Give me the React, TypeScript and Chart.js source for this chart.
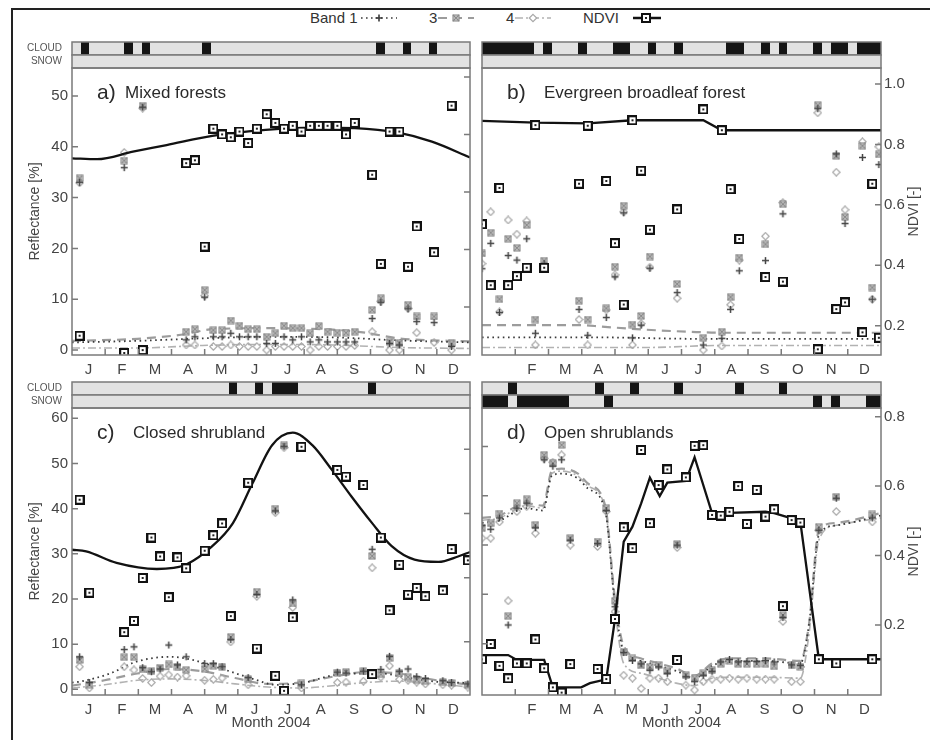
import React, { useEffect, useRef } from "react";
import { Chart, registerables } from "chart.js";
Chart.register(...registerables);

const FONT = "'Liberation Sans', Arial, Helvetica, sans-serif";
const MONTHS = ["J", "F", "M", "A", "M", "J", "J", "A", "S", "O", "N", "D"];
const MONTHS_NO_JAN = ["", "F", "M", "A", "M", "J", "J", "A", "S", "O", "N", "D"];
const MONTH_LEN = 30.5;
const COMPOSITE_DAYS = 8;
const YEAR_END = 366;

// ---------- a) Mixed forests ----------
const aDays = [7, 48, 65, 105, 113, 122, 130, 138, 146, 154, 162, 170, 179, 187, 195, 203, 211, 219, 227, 235, 244, 252, 260, 276, 284, 292, 301, 309, 317, 333, 349];
const aNdvi = [0.10, 0.04, 0.05, 0.70, 0.71, 0.41, 0.82, 0.80, 0.79, 0.81, 0.77, 0.82, 0.87, 0.84, 0.82, 0.83, 0.81, 0.83, 0.83, 0.83, 0.83, 0.80, 0.84, 0.66, 0.35, 0.81, 0.81, 0.34, 0.48, 0.39, 0.90];
const aBand1 = [33.0, 35.9, 47.8, 2.0, 2.6, 10.4, 2.6, 2.6, 3.3, 2.6, 2.6, 2.6, 1.3, 1.3, 2.6, 2.0, 2.6, 1.6, 2.0, 1.6, 1.6, 1.6, 1.6, 6.2, 9.4, 1.3, 1.0, 8.1, 5.6, 5.4, 0.7];
const aBand3 = [33.8, 37.3, 48.1, 3.6, 4.1, 11.8, 3.9, 3.9, 5.8, 4.8, 4.1, 4.1, 2.6, 3.3, 4.8, 4.3, 4.3, 3.3, 4.7, 3.6, 3.4, 3.4, 3.6, 7.9, 10.2, 1.6, 1.4, 8.9, 6.6, 6.6, 1.3];
const aBand4 = [32.9, 38.9, 47.6, 1.0, 1.0, 10.7, 0.7, 0.7, 1.0, 0.7, 0.7, 0.7, 0.0, 0.7, 0.7, 0.7, 0.7, 0.0, 0.7, 0.7, 0.7, 0.7, 0.9, 3.6, 9.6, 0.0, 0.0, 8.2, 3.4, 1.5, 0.0];
const aNdviFitDays = [0, 23, 56, 87, 129, 178, 224, 260, 300, 331, 366];
const aNdviFit = [0.717, 0.714, 0.740, 0.763, 0.795, 0.816, 0.824, 0.822, 0.806, 0.775, 0.720];
const aBand1FitDays = [0, 60, 120, 180, 240, 300, 366];
const aBand1Fit = [1.5, 1.8, 2.3, 2.6, 2.5, 1.9, 1.5];
const aBand3FitDays = [0, 60, 100, 130, 180, 240, 270, 300, 366];
const aBand3Fit = [1.8, 2.2, 3.0, 4.1, 4.3, 4.0, 3.4, 2.3, 1.7];
const aBand4FitDays = [0, 60, 120, 180, 240, 300, 366];
const aBand4Fit = [0.4, 0.4, 0.9, 1.1, 1.0, 0.5, 0.3];
const aCloud = [1, 6, 8, 15, 35, 38, 41];
const aSnow: number[] = [];

// ---------- b) Evergreen broadleaf forest ----------
const bDays = [0, 8, 16, 24, 32, 41, 49, 57, 89, 97, 114, 122, 130, 138, 146, 154, 179, 203, 220, 228, 236, 260, 276, 308, 325, 333, 349, 358, 364];
const bNdvi = [0.536, 0.334, 0.656, 0.334, 0.364, 0.392, 0.864, 0.392, 0.670, 0.862, 0.679, 0.473, 0.270, 0.880, 0.713, 0.518, 0.585, 0.916, 0.847, 0.652, 0.487, 0.361, 0.346, 0.122, 0.255, 0.277, 0.178, 0.670, 0.160];
const bBand1 = [16.0, 21.0, 7.4, 18.6, 17.7, 21.9, 3.3, 17.0, 8.0, 2.9, 6.4, 14.4, 27.0, 2.4, 4.9, 16.1, 11.3, 1.0, 2.3, 8.0, 15.6, 17.6, 26.8, 47.5, 38.6, 24.9, 37.9, 10.0, 36.5];
const bBand3 = [19.0, 23.1, 10.0, 21.9, 20.1, 24.6, 6.0, 17.6, 9.7, 6.0, 8.2, 16.4, 28.4, 5.0, 6.7, 18.4, 13.0, 2.4, 3.6, 10.4, 18.2, 20.8, 28.7, 48.2, 38.2, 26.2, 40.2, 12.3, 38.5];
const bBand4 = [17.0, 27.2, 7.5, 25.6, 22.8, 25.4, 1.0, 16.4, 6.0, 1.0, 7.9, 14.8, 27.2, 1.0, 5.2, 16.3, 10.2, 0.0, 0.8, 8.9, 17.7, 22.4, 29.0, 46.7, 35.0, 27.6, 41.0, 10.0, 40.0];
const bNdviFitDays = [0, 49, 97, 138, 203, 220, 366];
const bNdviFit = [0.878, 0.872, 0.870, 0.880, 0.880, 0.847, 0.847];
const bBand1FitDays = [0, 100, 200, 366];
const bBand1Fit = [2.5, 2.5, 2.2, 2.2];
const bBand3FitDays = [0, 90, 110, 150, 190, 220, 366];
const bBand3Fit = [4.9, 4.9, 4.6, 4.0, 3.6, 3.4, 3.4];
const bBand4FitDays = [0, 150, 220, 366];
const bBand4Fit = [0.5, 0.5, 0.9, 0.9];
const bCloud = [0, 1, 2, 3, 4, 5, 7, 11, 15, 16, 19, 22, 28, 29, 32, 34, 38, 40, 41, 43, 44, 45];
const bSnow: number[] = [];

// ---------- c) Closed shrubland ----------
const cDays = [7, 16, 48, 57, 65, 73, 81, 89, 97, 105, 122, 130, 138, 146, 162, 170, 187, 195, 203, 211, 244, 252, 268, 276, 284, 292, 301, 309, 317, 325, 341, 349, 364];
const cNdvi = [0.643, 0.353, 0.230, 0.265, 0.399, 0.525, 0.466, 0.339, 0.463, 0.429, 0.484, 0.532, 0.569, 0.280, 0.696, 0.179, 0.094, 0.047, 0.276, 0.808, 0.736, 0.715, 0.689, 0.099, 0.525, 0.298, 0.440, 0.347, 0.368, 0.342, 0.360, 0.489, 0.454];
const cBand1 = [7.2, 1.5, 8.8, 9.4, 4.8, 3.9, 4.5, 9.8, 5.4, 7.2, 5.7, 5.7, 5.0, 11.0, 2.6, 21.0, 39.5, 53.8, 19.8, 1.0, 3.8, 3.6, 4.0, 31.0, 4.4, 7.3, 4.0, 4.5, 2.8, 2.4, 1.9, 1.5, 1.2];
const cBand3 = [6.5, 1.0, 7.1, 7.1, 4.4, 4.0, 4.8, 5.5, 5.0, 4.3, 4.5, 5.2, 5.0, 11.6, 2.2, 21.6, 40.0, 54.0, 19.0, 1.3, 3.7, 3.8, 4.0, 29.5, 3.3, 6.9, 3.5, 2.7, 2.1, 1.8, 1.6, 1.4, 1.0];
const cBand4 = [5.0, 0.3, 5.0, 4.3, 2.4, 1.5, 2.9, 3.2, 2.7, 3.0, 2.0, 2.2, 2.5, 10.5, 1.0, 20.6, 39.1, 53.5, 18.1, 0.3, 1.5, 1.6, 1.8, 26.9, 2.7, 5.2, 2.2, 2.0, 1.6, 1.2, 1.0, 0.9, 0.5];
const cNdviFitDays = [0, 13, 41, 78, 105, 129, 148, 166, 184, 203, 221, 239, 257, 276, 294, 315, 337, 355, 366];
const cNdviFit = [0.487, 0.482, 0.446, 0.427, 0.441, 0.498, 0.570, 0.694, 0.813, 0.852, 0.813, 0.736, 0.653, 0.570, 0.498, 0.456, 0.449, 0.466, 0.480];
const cBand1FitDays = [0, 7, 35, 59, 90, 111, 126, 141, 151, 169, 187, 212, 242, 264, 285, 303, 334, 366];
const cBand1Fit = [1.5, 1.7, 3.5, 6.1, 7.2, 6.5, 5.4, 4.3, 3.5, 2.1, 1.0, 1.4, 3.2, 3.5, 3.5, 2.8, 1.7, 1.4];
const cBand3FitDays = [0, 30, 60, 90, 120, 150, 180, 210, 240, 270, 300, 335, 366];
const cBand3Fit = [0.8, 2.0, 3.5, 4.5, 4.0, 2.5, 1.2, 1.5, 2.8, 3.8, 3.5, 2.0, 1.0];
const cBand4FitDays = [0, 30, 60, 90, 120, 150, 180, 210, 240, 270, 300, 335, 366];
const cBand4Fit = [0.3, 1.0, 2.0, 2.3, 2.0, 1.2, 0.5, 0.3, 0.8, 1.5, 1.8, 1.2, 0.5];
const cCloud = [18, 21, 23, 24, 25, 34];
const cSnow: number[] = [];

// ---------- d) Open shrublands ----------
const dDays = [0, 8, 16, 24, 32, 41, 49, 57, 65, 73, 81, 106, 114, 122, 130, 138, 146, 154, 162, 170, 179, 187, 195, 203, 211, 219, 227, 235, 243, 252, 260, 268, 276, 284, 292, 309, 325, 358];
const dNdvi = [0.101, 0.145, 0.082, 0.046, 0.089, 0.089, 0.158, 0.075, 0.020, 0.005, 0.087, 0.073, 0.044, 0.217, 0.481, 0.421, 0.704, 0.493, 0.603, 0.648, 0.099, 0.625, 0.716, 0.718, 0.517, 0.515, 0.526, 0.600, 0.491, 0.589, 0.512, 0.533, 0.254, 0.502, 0.495, 0.101, 0.089, 0.101];
const dBand1 = [34.0, 33.2, 35.5, 13.8, 37.5, 38.5, 33.5, 47.3, 46.0, 47.3, 31.0, 30.3, 37.0, 17.5, 8.2, 6.6, 5.9, 4.6, 5.3, 4.0, 30.0, 3.3, 2.3, 3.6, 4.4, 6.3, 6.8, 6.3, 6.4, 6.4, 6.6, 6.3, 15.3, 5.7, 5.6, 33.0, 39.5, 35.5];
const dBand3 = [33.4, 34.4, 36.4, 15.6, 38.5, 39.3, 34.1, 48.3, 46.6, 50.3, 31.4, 30.7, 37.5, 18.7, 8.4, 7.0, 5.6, 5.3, 5.7, 4.4, 30.2, 3.6, 3.0, 4.0, 4.6, 5.9, 6.5, 5.9, 5.9, 5.9, 5.9, 5.4, 15.8, 5.6, 5.3, 33.7, 39.8, 36.2];
const dBand4 = [31.4, 31.4, 34.7, 18.7, 36.8, 37.8, 32.4, 47.6, 46.8, 48.3, 30.0, 29.7, 36.8, 16.5, 3.6, 3.0, 0.9, 3.0, 3.0, 2.3, 29.5, 1.6, 0.6, 2.3, 2.8, 2.8, 3.0, 2.8, 3.0, 2.8, 2.8, 2.8, 14.5, 2.3, 2.3, 33.0, 36.8, 34.7];
const dNdviFitDays = [0, 24, 32, 57, 65, 91, 99, 114, 122, 130, 138, 146, 154, 163, 170, 187, 195, 211, 219, 227, 260, 268, 284, 292, 309, 366];
const dNdviFit = [0.113, 0.113, 0.099, 0.099, 0.020, 0.020, 0.032, 0.043, 0.217, 0.440, 0.483, 0.550, 0.624, 0.571, 0.610, 0.615, 0.683, 0.522, 0.515, 0.523, 0.526, 0.522, 0.507, 0.497, 0.101, 0.101];
const dBandFitDays = [0, 16, 40, 56, 64, 73, 88, 97, 113, 122, 130, 146, 162, 178, 195, 211, 227, 260, 292, 300, 309, 325, 366];
const dBand1Fit = [34.5, 35, 37.5, 37, 44, 44.5, 43.5, 41.5, 37, 18, 8.5, 6.5, 5.5, 4.5, 3.0, 5.5, 6.5, 6.5, 6.0, 14, 32, 34, 36];
const dBand3Fit = [35.5, 36, 38.5, 38, 45, 45.5, 44.5, 42.5, 38, 19, 9.5, 7, 6, 5, 3.5, 6, 7, 7, 6.5, 14, 33, 34.5, 36.5];
const dBand4Fit = [35, 35.5, 38, 37.5, 44.5, 45, 44, 42, 37.5, 17, 6, 4, 3, 2, 1.5, 3, 3.2, 3.2, 3, 12, 31, 34, 35.5];
const dCloud = [3, 13, 17, 22, 29, 34];
const dSnow = [0, 1, 2, 4, 5, 6, 7, 8, 9, 14, 38, 40, 44, 45];

// axis ticks
const reflTicksA = [0, 10, 20, 30, 40, 50];
const reflTicksC = [0, 10, 20, 30, 40, 50, 60];
const reflTicksD = [10, 20, 30, 40, 50];
const ndviTicksAB = [0.2, 0.4, 0.6, 0.8, 1.0];
const ndviTicksCD = [0.2, 0.4, 0.6, 0.8];

type Spec = any;

const panels: Spec[] = [
  {
    key: "a", tag: "a)", name: "Mixed forests", nameDx: 53,
    days: aDays, ndvi: aNdvi, b1: aBand1, b3: aBand3, b4: aBand4,
    ndviFit: [aNdviFitDays, aNdviFit], smooth: true,
    b1Fit: [aBand1FitDays, aBand1Fit], b3Fit: [aBand3FitDays, aBand3Fit], b4Fit: [aBand4FitDays, aBand4Fit],
    cloud: aCloud, snow: aSnow,
    yMin: -0.98, yMax: 55.51, nMin: 0.033, nMax: 1.031,
    leftTicks: reflTicksA, rightTicks: ndviTicksAB, leftLabels: true, rightLabels: false,
    months: MONTHS, xTitle: false, stripLabels: true,
    leftW: 72, rightW: 4, padTop: 32, xH: 25,
    pos: { left: 0, top: 36, width: 476, height: 344 },
  },
  {
    key: "b", tag: "b)", name: "Evergreen broadleaf forest", nameDx: 62,
    days: bDays, ndvi: bNdvi, b1: bBand1, b3: bBand3, b4: bBand4,
    ndviFit: [bNdviFitDays, bNdviFit], smooth: false,
    b1Fit: [bBand1FitDays, bBand1Fit], b3Fit: [bBand3FitDays, bBand3Fit], b4Fit: [bBand4FitDays, bBand4Fit],
    cloud: bCloud, snow: bSnow,
    yMin: -0.98, yMax: 55.51, nMin: 0.103, nMax: 1.053,
    leftTicks: [], rightTicks: ndviTicksAB, leftLabels: false, rightLabels: true,
    months: MONTHS_NO_JAN, xTitle: false, stripLabels: false,
    leftW: 4, rightW: 49, padTop: 32, xH: 25,
    pos: { left: 476, top: 36, width: 454, height: 344 },
  },
  {
    key: "c", tag: "c)", name: "Closed shrubland", nameDx: 61,
    days: cDays, ndvi: cNdvi, b1: cBand1, b3: cBand3, b4: cBand4,
    ndviFit: [cNdviFitDays, cNdviFit], smooth: true,
    b1Fit: [cBand1FitDays, cBand1Fit], b3Fit: [cBand3FitDays, cBand3Fit], b4Fit: [cBand4FitDays, cBand4Fit],
    cloud: cCloud, snow: cSnow,
    yMin: -1.26, yMax: 62.28, nMin: 0.034, nMax: 0.929,
    leftTicks: reflTicksC, rightTicks: ndviTicksCD, leftLabels: true, rightLabels: false,
    months: MONTHS, xTitle: true, stripLabels: true,
    leftW: 72, rightW: 4, padTop: 28, xH: 45,
    pos: { left: 0, top: 380, width: 476, height: 360 },
  },
  {
    key: "d", tag: "d)", name: "Open shrublands", nameDx: 62,
    days: dDays, ndvi: dNdvi, b1: dBand1, b3: dBand3, b4: dBand4,
    ndviFit: [dNdviFitDays, dNdviFit], smooth: false,
    b1Fit: [dBandFitDays, dBand1Fit], b3Fit: [dBandFitDays, dBand3Fit], b4Fit: [dBandFitDays, dBand4Fit],
    cloud: dCloud, snow: dSnow,
    yMin: -0.41, yMax: 57.8, nMin: -0.002, nMax: 0.825,
    leftTicks: reflTicksD, rightTicks: ndviTicksCD, leftLabels: false, rightLabels: true,
    months: MONTHS_NO_JAN, xTitle: true, stripLabels: false,
    leftW: 4, rightW: 49, padTop: 28, xH: 45,
    pos: { left: 476, top: 380, width: 454, height: 360 },
  },
];

function mk(size: number, draw: (g: CanvasRenderingContext2D) => void) {
  const c = document.createElement("canvas");
  c.width = size;
  c.height = size;
  draw(c.getContext("2d") as CanvasRenderingContext2D);
  return c;
}

function makeMarkers() {
  return {
    ndvi: mk(10, (g) => {
      g.fillStyle = "#fff";
      g.fillRect(1, 1, 8, 8);
      g.strokeStyle = "#111";
      g.lineWidth = 2;
      g.strokeRect(1, 1, 8, 8);
      g.fillStyle = "#222";
      g.fillRect(4, 4, 2, 2);
    }),
    b1: mk(9, (g) => {
      g.strokeStyle = "#444";
      g.lineWidth = 1.5;
      g.beginPath();
      g.moveTo(4.5, 1);
      g.lineTo(4.5, 8);
      g.moveTo(1, 4.5);
      g.lineTo(8, 4.5);
      g.stroke();
    }),
    b3: mk(8, (g) => {
      g.fillStyle = "#d2d2d2";
      g.fillRect(1, 1, 6, 6);
      g.strokeStyle = "#8a8a8a";
      g.lineWidth = 1.1;
      g.strokeRect(1, 1, 6, 6);
      g.beginPath();
      g.moveTo(1, 1);
      g.lineTo(7, 7);
      g.moveTo(7, 1);
      g.lineTo(1, 7);
      g.stroke();
    }),
    b4: mk(9, (g) => {
      g.strokeStyle = "#a8a8a8";
      g.lineWidth = 1.2;
      g.beginPath();
      g.moveTo(4.5, 0.8);
      g.lineTo(8.2, 4.5);
      g.lineTo(4.5, 8.2);
      g.lineTo(0.8, 4.5);
      g.closePath();
      g.stroke();
    }),
  };
}

function toPts(days: number[], vals: (number | null)[]) {
  const out: { x: number; y: number }[] = [];
  days.forEach((d, i) => {
    const v = vals[i];
    if (v != null) out.push({ x: d, y: v });
  });
  return out;
}

// merge consecutive composite indices into runs [start, end)
function runs(flags: number[]) {
  const out: [number, number][] = [];
  const sorted = [...flags].sort((p, q) => p - q);
  sorted.forEach((i) => {
    const last = out[out.length - 1];
    if (last && last[1] === i) last[1] = i + 1;
    else out.push([i, i + 1]);
  });
  return out;
}

function makePlugin(s: Spec) {
  return {
    id: "panel_" + s.key,
    afterDraw(chart: any) {
      const { ctx, chartArea, scales } = chart;
      const { left, right, top, bottom } = chartArea;
      const X = scales.x, Y = scales.y, N = scales.yN;
      const rowH = 13;
      ctx.save();
      const rows: [number[], number][] = [
        [s.cloud, top - 2 * rowH],
        [s.snow, top - rowH],
      ];
      rows.forEach(([flags, y]) => {
        ctx.fillStyle = "#e2e2e2";
        ctx.fillRect(left, y, right - left, rowH);
        ctx.fillStyle = "#151515";
        runs(flags).forEach(([i0, i1]) => {
          const a = Math.round(X.getPixelForValue(i0 * COMPOSITE_DAYS));
          const b = Math.round(X.getPixelForValue(Math.min(YEAR_END, i1 * COMPOSITE_DAYS)));
          ctx.fillRect(a, y, b - a, rowH);
        });
        ctx.strokeStyle = "#7a7a7a";
        ctx.lineWidth = 1.5;
        ctx.strokeRect(left, y, right - left, rowH);
      });
      ctx.strokeStyle = "#7a7a7a";
      ctx.lineWidth = 1.5;
      ctx.strokeRect(left, top, right - left, bottom - top);
      ctx.beginPath();
      for (let k = 1; k < 12; k++) {
        const px = X.getPixelForValue(k * MONTH_LEN);
        ctx.moveTo(px, bottom);
        ctx.lineTo(px, bottom - 6);
      }
      s.leftTicks.forEach((v: number) => {
        const py = Y.getPixelForValue(v);
        ctx.moveTo(left, py);
        ctx.lineTo(left + 6, py);
      });
      s.rightTicks.forEach((v: number) => {
        const py = N.getPixelForValue(v);
        ctx.moveTo(right, py);
        ctx.lineTo(right - 6, py);
      });
      ctx.stroke();

      ctx.fillStyle = "#2a2a2a";
      ctx.textAlign = "left";
      ctx.textBaseline = "alphabetic";
      ctx.font = `21px ${FONT}`;
      ctx.fillText(s.tag, left + 25, top + 31);
      ctx.font = `17px ${FONT}`;
      ctx.fillText(s.name, left + s.nameDx, top + 30);

      ctx.fillStyle = "#444";
      ctx.font = `14px ${FONT}`;
      ctx.textAlign = "center";
      ctx.textBaseline = "middle";
      const midY = (top + bottom) / 2;
      if (s.leftLabels) {
        ctx.save();
        ctx.translate(35, midY);
        ctx.rotate(-Math.PI / 2);
        ctx.fillText("Reflectance [%]", 0, 0);
        ctx.restore();
      }
      if (s.rightLabels) {
        ctx.save();
        ctx.translate(right + 33, midY);
        ctx.rotate(-Math.PI / 2);
        ctx.fillText("NDVI [-]", 0, 0);
        ctx.restore();
      }
      if (s.xTitle) {
        ctx.font = `15px ${FONT}`;
        ctx.fillText("Month 2004", (left + right) / 2, bottom + 28);
      }
      if (s.stripLabels) {
        ctx.font = `10px ${FONT}`;
        ctx.textAlign = "right";
        ctx.fillStyle = "#555";
        ctx.fillText("CLOUD", left - 10, top - 2 * rowH + 6.5);
        ctx.fillText("SNOW", left - 10, top - rowH + 6.5);
      }
      ctx.restore();
    },
  };
}

const MID_MONTHS = MONTHS.map((_, i) => i * MONTH_LEN + MONTH_LEN / 2);

function buildConfig(s: Spec, m: any) {
  const tickFont = { size: 15, family: FONT };
  return {
    type: "line",
    data: {
      datasets: [
        { data: toPts(s.days, s.ndvi), yAxisID: "yN", showLine: false, pointStyle: m.ndvi, pointRadius: 5, clip: 0 },
        {
          data: toPts(s.ndviFit[0], s.ndviFit[1]), yAxisID: "yN", borderColor: "#121212", borderWidth: 2.3,
          pointRadius: 0, cubicInterpolationMode: s.smooth ? "monotone" : "default", tension: 0, clip: 0,
        },
        { data: toPts(s.days, s.b1), yAxisID: "y", showLine: false, pointStyle: m.b1, pointRadius: 4, clip: 0 },
        { data: toPts(s.days, s.b3), yAxisID: "y", showLine: false, pointStyle: m.b3, pointRadius: 4, clip: 0 },
        { data: toPts(s.days, s.b4), yAxisID: "y", showLine: false, pointStyle: m.b4, pointRadius: 4, clip: 0 },
        {
          data: toPts(s.b1Fit[0], s.b1Fit[1]), yAxisID: "y", borderColor: "#3a3a3a", borderWidth: 1.8,
          borderDash: [1.6, 3.6], pointRadius: 0, cubicInterpolationMode: "monotone", clip: 0,
        },
        {
          data: toPts(s.b3Fit[0], s.b3Fit[1]), yAxisID: "y", borderColor: "#9c9c9c", borderWidth: 2.2,
          borderDash: [9, 6], pointRadius: 0, cubicInterpolationMode: "monotone", clip: 0,
        },
        {
          data: toPts(s.b4Fit[0], s.b4Fit[1]), yAxisID: "y", borderColor: "#b2b2b2", borderWidth: 1.6,
          borderDash: [8, 3, 2, 3], pointRadius: 0, cubicInterpolationMode: "monotone", clip: 0,
        },
      ],
    },
    options: {
      responsive: false,
      animation: false,
      events: [],
      layout: { padding: { top: s.padTop, left: 0, right: 0, bottom: 0 } },
      plugins: { legend: { display: false }, tooltip: { enabled: false }, title: { display: false } },
      scales: {
        x: {
          type: "linear", min: 0, max: YEAR_END,
          grid: { display: false, drawTicks: false }, border: { display: false },
          afterBuildTicks: (sc: any) => { sc.ticks = MID_MONTHS.map((v) => ({ value: v })); },
          ticks: {
            autoSkip: false, maxRotation: 0, minRotation: 0, padding: 6, font: tickFont, color: "#444",
            callback: (_v: any, i: number) => s.months[i],
          },
          afterFit: (sc: any) => { sc.height = s.xH; },
        },
        y: {
          type: "linear", position: "left", min: s.yMin, max: s.yMax,
          grid: { display: false, drawTicks: false }, border: { display: false },
          afterBuildTicks: (sc: any) => { sc.ticks = (s.leftLabels ? s.leftTicks : []).map((v: number) => ({ value: v })); },
          ticks: { display: s.leftLabels, padding: 4, font: tickFont, color: "#444", callback: (v: any) => String(v) },
          afterFit: (sc: any) => { sc.width = s.leftW; },
        },
        yN: {
          type: "linear", position: "right", min: s.nMin, max: s.nMax,
          grid: { display: false, drawTicks: false }, border: { display: false },
          afterBuildTicks: (sc: any) => { sc.ticks = (s.rightLabels ? s.rightTicks : []).map((v: number) => ({ value: v })); },
          ticks: { display: s.rightLabels, padding: 3, font: tickFont, color: "#444", callback: (v: any) => Number(v).toFixed(1) },
          afterFit: (sc: any) => { sc.width = s.rightW; },
        },
      },
    },
    plugins: [makePlugin(s)],
  };
}

function Panel({ spec }: { spec: Spec }) {
  const ref = useRef<HTMLCanvasElement>(null);
  useEffect(() => {
    if (!ref.current) return;
    const chart = new Chart(ref.current, buildConfig(spec, makeMarkers()) as any);
    return () => chart.destroy();
  }, [spec]);
  const p = spec.pos;
  return (
    <canvas
      ref={ref}
      width={p.width}
      height={p.height}
      style={{ position: "absolute", left: p.left, top: p.top, width: p.width, height: p.height }}
    />
  );
}

function LegendMark({ kind }: { kind: string }) {
  const w = 36;
  let line: any = null;
  let mark: any = null;
  if (kind === "b1") {
    line = <line x1={0} y1={6} x2={w} y2={6} stroke="#3a3a3a" strokeWidth={1.6} strokeDasharray="1.6 3.4" />;
    mark = <path d={`M${w / 2} 2.5 V9.5 M${w / 2 - 3.5} 6 H${w / 2 + 3.5}`} stroke="#3a3a3a" strokeWidth={1.6} />;
  } else if (kind === "b3") {
    line = <line x1={0} y1={6} x2={w} y2={6} stroke="#9c9c9c" strokeWidth={2.2} strokeDasharray="9 6" />;
    mark = (
      <g stroke="#8a8a8a" strokeWidth={1.1}>
        <rect x={w / 2 - 3} y={3} width={6} height={6} fill="#d2d2d2" />
        <path d={`M${w / 2 - 3} 3 L${w / 2 + 3} 9 M${w / 2 + 3} 3 L${w / 2 - 3} 9`} />
      </g>
    );
  } else if (kind === "b4") {
    line = <line x1={0} y1={6} x2={w} y2={6} stroke="#b2b2b2" strokeWidth={1.6} strokeDasharray="8 3 2 3" />;
    mark = <path d={`M${w / 2} 2.3 L${w / 2 + 3.7} 6 L${w / 2} 9.7 L${w / 2 - 3.7} 6 Z`} fill="#fff" stroke="#a8a8a8" strokeWidth={1.2} />;
  } else {
    line = <line x1={2} y1={6} x2={w - 6} y2={6} stroke="#121212" strokeWidth={2.5} />;
    mark = (
      <g>
        <rect x={w / 2 - 7} y={2} width={8} height={8} fill="#fff" stroke="#111" strokeWidth={2} />
        <rect x={w / 2 - 4} y={5} width={2} height={2} fill="#222" />
      </g>
    );
  }
  return (
    <svg width={w} height={12} style={{ display: "block" }}>
      {line}
      {mark}
    </svg>
  );
}

const legendItems = [
  { text: "Band 1", tx: 310, kind: "b1", mx: 361 },
  { text: "3", tx: 429, kind: "b3", mx: 438 },
  { text: "4", tx: 506, kind: "b4", mx: 515 },
  { text: "NDVI", tx: 583, kind: "ndvi", mx: 631 },
];

export default function App() {
  return (
    <div style={{ position: "absolute", left: 0, top: 0, width: 930, height: 740, background: "#fff", overflow: "hidden", fontFamily: FONT }}>
      <div style={{ position: "absolute", left: 11, top: 8, width: 940, height: 760, borderLeft: "2px solid #222", borderTop: "2px solid #222" }} />
      {legendItems.map((it) => (
        <React.Fragment key={it.text}>
          <div style={{ position: "absolute", left: it.tx, top: 9, fontSize: 15, lineHeight: "18px", color: "#333", whiteSpace: "nowrap" }}>{it.text}</div>
          <div style={{ position: "absolute", left: it.mx, top: 12 }}>
            <LegendMark kind={it.kind} />
          </div>
        </React.Fragment>
      ))}
      {panels.map((p) => (
        <Panel key={p.key} spec={p} />
      ))}
    </div>
  );
}
